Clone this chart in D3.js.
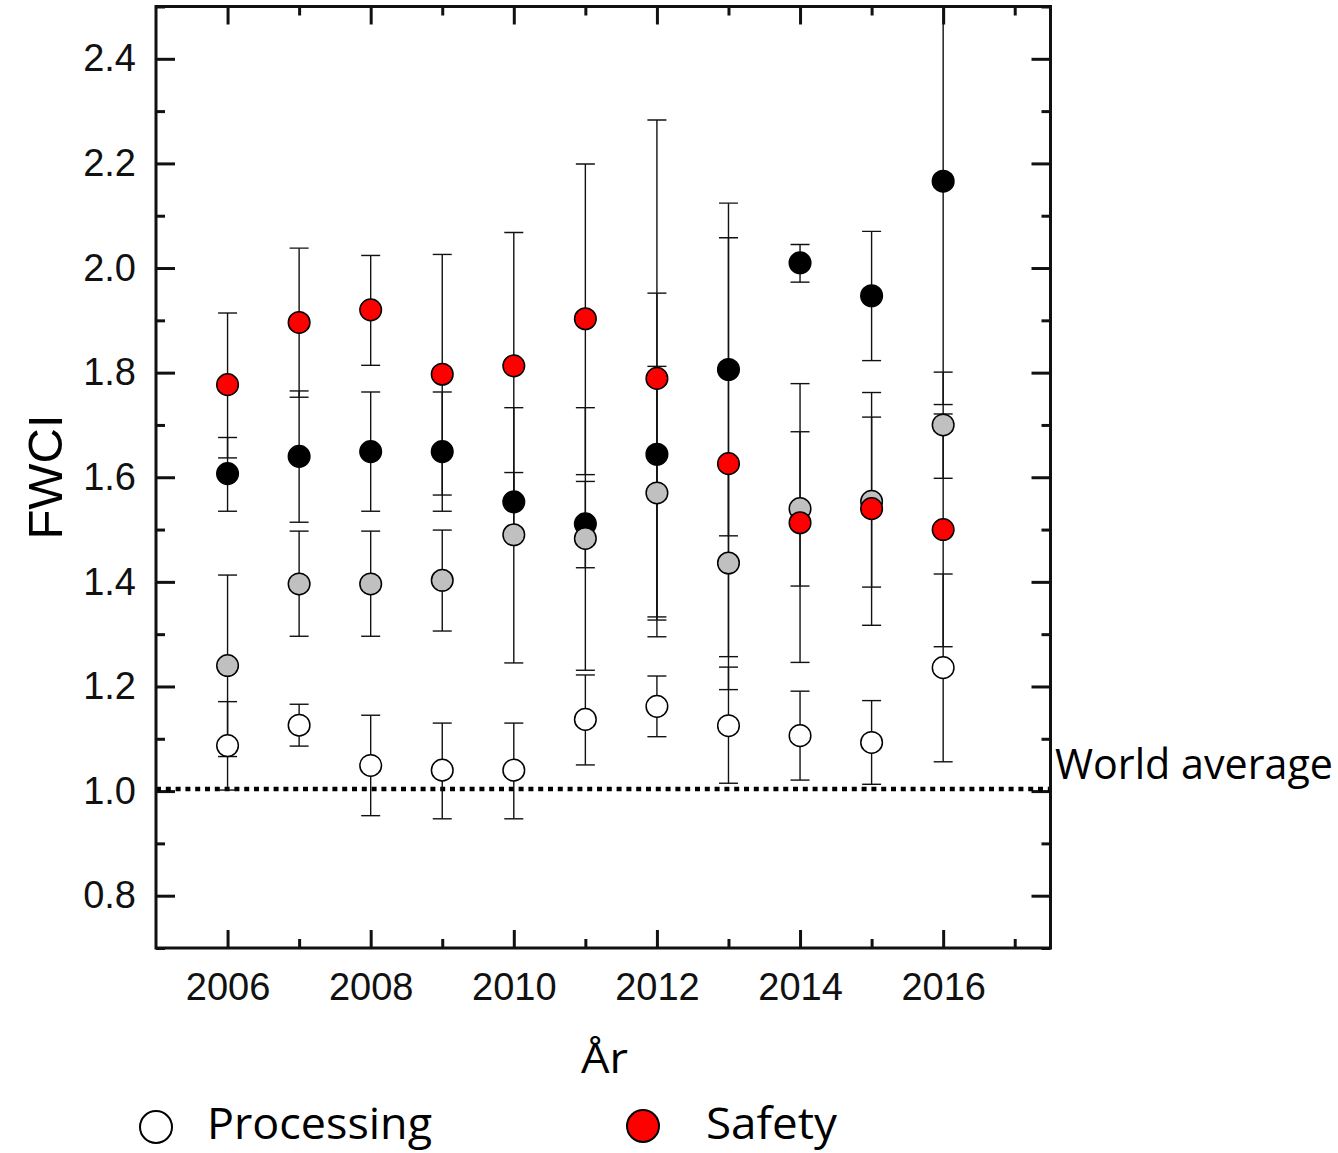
<!DOCTYPE html>
<html>
<head>
<meta charset="utf-8">
<script src="https://cdn.jsdelivr.net/npm/d3@7/dist/d3.min.js"></script>
<style>
  body { margin: 0; background: #fff; }
  svg { display: block; }
</style>
</head>
<body>
<div id="chart"></div>
<script>
const years = [2006, 2007, 2008, 2009, 2010, 2011, 2012, 2013, 2014, 2015, 2016]

// open circles
const processing     = [1.087, 1.126, 1.049, 1.040, 1.040, 1.137, 1.162, 1.125, 1.106, 1.093, 1.236]
const processingLow  = [1.002, 1.086, 0.953, 0.947, 0.947, 1.050, 1.104, 1.015, 1.021, 1.013, 1.056]
const processingHigh = [1.171, 1.166, 1.145, 1.130, 1.130, 1.222, 1.220, 1.237, 1.191, 1.173, 1.415]

// grey circles
const grey     = [1.240, 1.396, 1.396, 1.403, 1.490, 1.483, 1.570, 1.436, 1.540, 1.554, 1.700]
const greyLow  = [1.066, 1.296, 1.296, 1.306, 1.245, 1.231, 1.327, 1.257, 1.392, 1.390, 1.598]
const greyHigh = [1.413, 1.497, 1.497, 1.499, 1.733, 1.733, 1.812, 1.617, 1.687, 1.715, 1.801]

// black circles
const black     = [1.607, 1.640, 1.649, 1.649, 1.553, 1.511, 1.644, 1.806, 2.010, 1.947, 2.166]
const blackLow  = [1.535, 1.514, 1.535, 1.535, 1.497, 1.427, 1.333, 1.488, 1.973, 1.823, 1.739]
const blackHigh = [1.676, 1.765, 1.763, 1.763, 1.609, 1.592, 1.952, 2.124, 2.045, 2.070, 2.593]

// red circles
const safety     = [1.777, 1.896, 1.920, 1.797, 1.813, 1.903, 1.789, 1.626, 1.513, 1.540, 1.500]
const safetyLow  = [1.637, 1.753, 1.814, 1.566, 1.558, 1.605, 1.295, 1.194, 1.246, 1.317, 1.276]
const safetyHigh = [1.914, 2.038, 2.024, 2.026, 2.068, 2.199, 2.283, 2.058, 1.779, 1.762, 1.721]

const yMajorTicks = [0.8, 1.0, 1.2, 1.4, 1.6, 1.8, 2.0, 2.2, 2.4]
const yMinorTicks = [0.7, 0.9, 1.1, 1.3, 1.5, 1.7, 1.9, 2.1, 2.3, 2.5]
const xMajorTicks = [2006, 2008, 2010, 2012, 2014, 2016]
const xMinorTicks = [2007, 2009, 2011, 2013, 2015, 2017]
const worldAverage = 1.0

const width = 1338, height = 1153
const plot = { left: 156, right: 1050.5, top: 6.5, bottom: 948 }

const series = [
  { name: 'Black', values: black, low: blackLow, high: blackHigh, fill: '#000000' },
  { name: 'Grey', values: grey, low: greyLow, high: greyHigh, fill: '#c0c0c0' },
  { name: 'Safety', values: safety, low: safetyLow, high: safetyHigh, fill: '#ff0000' },
  { name: 'Processing', values: processing, low: processingLow, high: processingHigh, fill: '#ffffff' },
]

const x = d3.scaleLinear().domain([2005, 2017.5]).range([plot.left, plot.right])
const y = d3.scaleLinear().domain([0.7, 2.5]).range([plot.bottom, plot.top])

const svg = d3.select('#chart')
  .append('svg')
  .attr('width', width)
  .attr('height', height)

svg.append('defs').append('clipPath')
  .attr('id', 'plot-clip')
  .append('rect')
  .attr('x', plot.left)
  .attr('y', plot.top)
  .attr('width', plot.right - plot.left)
  .attr('height', plot.bottom - plot.top)

const tickFont = '"Liberation Sans", Arial, sans-serif'
const textFont = '"Open Sans", "Noto Sans", sans-serif'

function styleAxis(g) {
  g.select('.domain').remove()
  g.selectAll('.tick line').attr('stroke', '#111').attr('stroke-width', 3)
  g.selectAll('.tick text')
    .attr('fill', '#111')
    .style('font-family', tickFont)
    .style('font-size', '38px')
}

// axes: ticks point inward on all four sides
svg.append('g')
  .attr('transform', `translate(${plot.left},0)`)
  .call(d3.axisLeft(y).tickValues(yMajorTicks).tickSize(-19).tickPadding(20).tickFormat(d3.format('.1f')))
  .call(styleAxis)
svg.append('g')
  .attr('transform', `translate(${plot.left},0)`)
  .call(d3.axisLeft(y).tickValues(yMinorTicks).tickSize(-9).tickFormat(''))
  .call(styleAxis)
svg.append('g')
  .attr('transform', `translate(${plot.right},0)`)
  .call(d3.axisRight(y).tickValues(yMajorTicks).tickSize(-19).tickFormat(''))
  .call(styleAxis)
svg.append('g')
  .attr('transform', `translate(${plot.right},0)`)
  .call(d3.axisRight(y).tickValues(yMinorTicks).tickSize(-9).tickFormat(''))
  .call(styleAxis)

svg.append('g')
  .attr('transform', `translate(0,${plot.bottom})`)
  .call(d3.axisBottom(x).tickValues(xMajorTicks).tickSize(-18).tickPadding(25).tickFormat(d3.format('d')))
  .call(styleAxis)
svg.append('g')
  .attr('transform', `translate(0,${plot.bottom})`)
  .call(d3.axisBottom(x).tickValues(xMinorTicks.filter(d => x(d) < plot.right - 5)).tickSize(-9).tickFormat(''))
  .call(styleAxis)
svg.append('g')
  .attr('transform', `translate(0,${plot.top})`)
  .call(d3.axisTop(x).tickValues(xMajorTicks).tickSize(-18).tickFormat(''))
  .call(styleAxis)
svg.append('g')
  .attr('transform', `translate(0,${plot.top})`)
  .call(d3.axisTop(x).tickValues(xMinorTicks.filter(d => x(d) < plot.right - 5)).tickSize(-9).tickFormat(''))
  .call(styleAxis)

// world average line
svg.append('line')
  .attr('x1', plot.left)
  .attr('x2', plot.right)
  .attr('y1', y(worldAverage) - 2)
  .attr('y2', y(worldAverage) - 2)
  .attr('stroke', '#000')
  .attr('stroke-width', 4.5)
  .attr('stroke-dasharray', '5,4.8')

svg.append('text')
  .attr('x', 1055)
  .attr('y', 779)
  .attr('textLength', 278)
  .attr('lengthAdjust', 'spacingAndGlyphs')
  .style('font-family', textFont)
  .style('font-size', '42px')
  .text('World average')

// error bars (all drawn under the markers)
const bars = svg.append('g').attr('clip-path', 'url(#plot-clip)')
const capHalf = 9.5

series.forEach(s => {
  const rows = years.map((yr, i) => ({ yr, low: s.low[i], high: s.high[i] }))
  const g = bars.append('g')
    .attr('stroke', '#111')
    .attr('stroke-width', 1.4)

  g.selectAll('line.stem')
    .data(rows)
    .enter()
      .append('line')
      .attr('class', 'stem')
      .attr('x1', d => x(d.yr))
      .attr('x2', d => x(d.yr))
      .attr('y1', d => y(d.low))
      .attr('y2', d => y(d.high))

  g.selectAll('line.cap')
    .data(rows.flatMap(d => [{ yr: d.yr, v: d.low }, { yr: d.yr, v: d.high }]))
    .enter()
      .append('line')
      .attr('class', 'cap')
      .attr('x1', d => x(d.yr) - capHalf)
      .attr('x2', d => x(d.yr) + capHalf)
      .attr('y1', d => y(d.v))
      .attr('y2', d => y(d.v))
})

// markers
const marks = svg.append('g')
series.forEach(s => {
  marks.append('g')
    .selectAll('circle')
    .data(years.map((yr, i) => ({ yr, v: s.values[i] })))
    .enter()
      .append('circle')
      .attr('cx', d => x(d.yr))
      .attr('cy', d => y(d.v))
      .attr('r', 10.8)
      .attr('fill', s.fill)
      .attr('stroke', '#000')
      .attr('stroke-width', 1.5)
})

// frame
svg.append('rect')
  .attr('x', plot.left)
  .attr('y', plot.top)
  .attr('width', plot.right - plot.left)
  .attr('height', plot.bottom - plot.top)
  .attr('fill', 'none')
  .attr('stroke', '#111')
  .attr('stroke-width', 3)

// axis titles
svg.append('text')
  .attr('transform', `translate(62,477) rotate(-90)`)
  .attr('text-anchor', 'middle')
  .style('font-family', tickFont)
  .style('font-size', '49px')
  .text('FWCI')

svg.append('text')
  .attr('x', 581)
  .attr('y', 1073)
  .attr('textLength', 47)
  .attr('lengthAdjust', 'spacingAndGlyphs')
  .style('font-family', textFont)
  .style('font-size', '42px')
  .text('År')

// legend
const legendItems = [
  { label: 'Processing', fill: '#ffffff', cx: 156, cy: 1127, tx: 207, len: 225 },
  { label: 'Safety', fill: '#ff0000', cx: 643, cy: 1126, tx: 706, len: 131 },
]
const legend = svg.append('g')
legend.selectAll('circle')
  .data(legendItems)
  .enter()
    .append('circle')
    .attr('cx', d => d.cx)
    .attr('cy', d => d.cy)
    .attr('r', 16)
    .attr('fill', d => d.fill)
    .attr('stroke', '#000')
    .attr('stroke-width', 2)
legend.selectAll('text')
  .data(legendItems)
  .enter()
    .append('text')
    .attr('x', d => d.tx)
    .attr('y', 1139)
    .attr('textLength', d => d.len)
    .attr('lengthAdjust', 'spacingAndGlyphs')
    .style('font-family', textFont)
    .style('font-size', '44px')
    .text(d => d.label)
</script>
</body>
</html>
